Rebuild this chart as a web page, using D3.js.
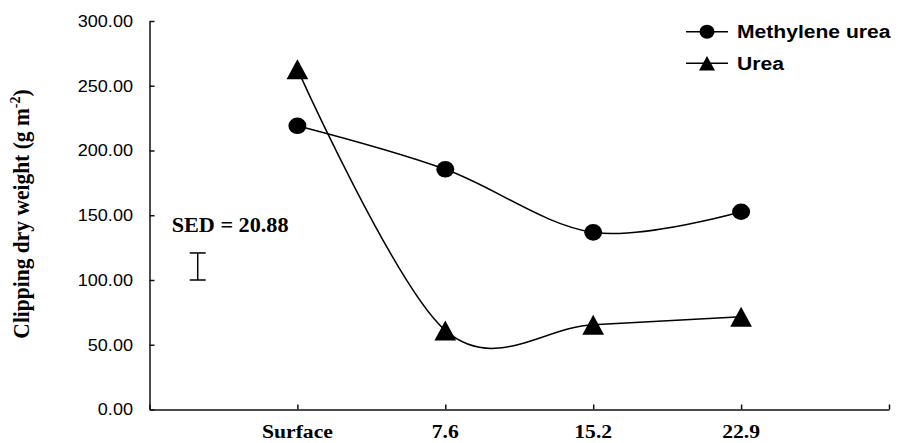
<!DOCTYPE html>
<html>
<head>
<meta charset="utf-8">
<script src="https://cdn.jsdelivr.net/npm/d3@7"></script>
<style>
  html, body { margin: 0; padding: 0; background: #fff; }
  svg { display: block; }
</style>
</head>
<body>
<svg id="chart" width="898" height="443"></svg>
<script>
// Clipping dry weight by placement depth
const categories = ["Surface", "7.6", "15.2", "22.9"];
const methyleneUrea = [219.1, 185.5, 136.8, 152.7];
const urea = [262.8, 61.1, 65.5, 71.7];
const yTicks = [0, 50, 100, 150, 200, 250, 300];
const seriesNames = ["Methylene urea", "Urea"];
const sedValue = 20.88;
const sedBase = 100;

const W = 898, H = 443;
const sx = 1.11; // glyph widening used for every label
const serif = "'Liberation Serif', 'Times New Roman', serif";
const sans = "'Liberation Sans', Arial, sans-serif";

const svg = d3.select("#chart");

const x = d3.scaleLinear().domain([0, categories.length + 1]).range([149.5, 889]);
const y = d3.scaleLinear().domain([0, 300]).range([409.5, 21]);

// widened text helper
function label(g, px, py, txt, opts) {
  const t = g.append("text")
    .attr("transform", `translate(${px},${py}) scale(${sx},1)${opts.rotate ? " rotate(" + opts.rotate + ")" : ""}`)
    .attr("font-family", opts.family)
    .attr("font-size", opts.size)
    .attr("font-weight", opts.weight || "normal")
    .attr("text-anchor", opts.anchor || "start")
    .attr("fill", "#000");
  if (txt !== null) t.text(txt);
  return t;
}

// axes
const xAxis = d3.axisBottom(x)
  .tickValues(d3.range(0, categories.length + 2))
  .tickSize(-5)
  .tickSizeOuter(0)
  .tickFormat(() => "");
svg.append("g")
  .attr("transform", `translate(0,${y(0)})`)
  .call(xAxis)
  .call(g => g.selectAll("path, line").attr("stroke", "#111").attr("stroke-width", 1.5));

const yAxis = d3.axisLeft(y)
  .tickValues(yTicks)
  .tickSize(-5)
  .tickSizeOuter(0)
  .tickFormat(() => "");
svg.append("g")
  .attr("transform", `translate(${x(0)},0)`)
  .call(yAxis)
  .call(g => g.selectAll("path, line").attr("stroke", "#111").attr("stroke-width", 1.5));

// y tick labels
const fmt = d3.format(".2f");
const yl = svg.append("g");
yTicks.forEach(v => {
  label(yl, 133, y(v) + 5.8, fmt(v), { family: sans, size: 16.3, anchor: "end" });
});

// x category labels
const xl = svg.append("g");
categories.forEach((c, i) => {
  label(xl, x(i + 1), 438, c, { family: serif, size: 19.5, weight: "bold", anchor: "middle" });
});

// y axis title
const yt = label(svg, 28.5, 214, null, { family: serif, size: 21.5, weight: "bold", anchor: "middle", rotate: -90 });
yt.append("tspan").text("Clipping dry weight (g m");
yt.append("tspan").attr("font-size", 14).attr("dy", -8).text("-2");
yt.append("tspan").attr("dy", 8).text(")");

// series lines
const line = d3.line()
  .x((d, i) => x(i + 1))
  .y(d => y(d))
  .curve(d3.curveCatmullRom.alpha(0));

[methyleneUrea, urea].forEach(s => {
  svg.append("path")
    .attr("d", line(s))
    .attr("fill", "none")
    .attr("stroke", "#000")
    .attr("stroke-width", 1.5);
});

// markers
const triPath = (cx, cy, w, h) => `M${cx},${cy - h / 2}L${cx + w / 2},${cy + h / 2}L${cx - w / 2},${cy + h / 2}Z`;

svg.append("g").selectAll("ellipse")
  .data(methyleneUrea)
  .join("ellipse")
  .attr("cx", (d, i) => x(i + 1))
  .attr("cy", d => y(d))
  .attr("rx", 9)
  .attr("ry", 8.3)
  .attr("fill", "#000");

svg.append("g").selectAll("path")
  .data(urea)
  .join("path")
  .attr("d", (d, i) => triPath(x(i + 1), y(d), 21.7, 20))
  .attr("fill", "#000");

// SED bar
const sedX = x(0.326);
const sed = svg.append("g").attr("stroke", "#000").attr("stroke-width", 1.5);
sed.append("line").attr("x1", sedX).attr("x2", sedX).attr("y1", y(sedBase)).attr("y2", y(sedBase + sedValue));
sed.append("line").attr("x1", sedX - 8).attr("x2", sedX + 8).attr("y1", y(sedBase)).attr("y2", y(sedBase));
sed.append("line").attr("x1", sedX - 8).attr("x2", sedX + 8).attr("y1", y(sedBase + sedValue)).attr("y2", y(sedBase + sedValue));
label(svg, 171.7, 232, "SED = " + sedValue.toFixed(2), { family: serif, size: 20, weight: "bold" });

// legend
const lg = svg.append("g");
const legendRows = [31.7, 63.3];
seriesNames.forEach((name, i) => {
  const ly = legendRows[i];
  lg.append("line").attr("x1", 686).attr("x2", 728).attr("y1", ly).attr("y2", ly)
    .attr("stroke", "#000").attr("stroke-width", 1.5);
  if (i === 0) {
    lg.append("ellipse").attr("cx", 707).attr("cy", ly).attr("rx", 7.5).attr("ry", 7).attr("fill", "#000");
  } else {
    lg.append("path").attr("d", triPath(707, ly, 16, 14.5)).attr("fill", "#000");
  }
  label(lg, 737, ly + 6.2, name, { family: sans, size: 19, weight: "bold" });
});
</script>
</body>
</html>
